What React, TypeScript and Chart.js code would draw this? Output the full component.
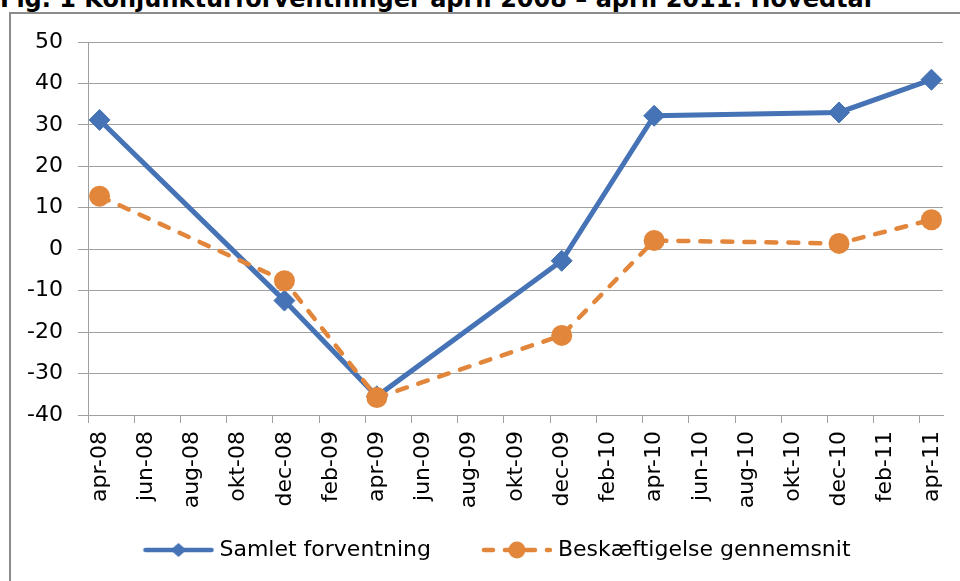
import React, { useEffect, useRef } from 'react';
import { Chart, registerables } from 'chart.js';

Chart.register(...registerables);

// ---- data ----
const monthNames = ['jan', 'feb', 'mar', 'apr', 'maj', 'jun', 'jul', 'aug', 'sep', 'okt', 'nov', 'dec'];
const tickLabels = [
  'apr-08', 'jun-08', 'aug-08', 'okt-08', 'dec-08', 'feb-09', 'apr-09', 'jun-09', 'aug-09', 'okt-09',
  'dec-09', 'feb-10', 'apr-10', 'jun-10', 'aug-10', 'okt-10', 'dec-10', 'feb-11', 'apr-11',
];
const categories = ['apr-08', 'dec-08', 'apr-09', 'dec-09', 'apr-10', 'dec-10', 'apr-11'];
const samletForventning = [31.2, -12.4, -35.5, -2.8, 32.2, 33.0, 40.9];
const beskaeftigelseGennemsnit = [12.8, -7.6, -35.8, -20.8, 2.1, 1.4, 7.1];
const seriesNames = ['Samlet forventning', 'Beskæftigelse gennemsnit'];
const yMin = -40;
const yMax = 50;
const yStep = 10;
const titleText = 'Fig. 1 Konjunkturforventninger april 2008 – april 2011: Hovedtal';

// ---- style ----
const BLUE = '#4573B5';
const ORANGE = '#E2863B';
const GRID = '#A0A0A0';
const FONT = "'DejaVu Sans', sans-serif";
const FONT_SIZE = 22;

function monthIndex(label: string): number {
  const [m, y] = label.split('-');
  return (2000 + Number(y)) * 12 + monthNames.indexOf(m);
}
const baseMonth = monthIndex(categories[0]);
const monthOffset = (label: string) => monthIndex(label) - baseMonth;
const lastMonth = monthOffset(tickLabels[tickLabels.length - 1]);

function makeSwatch(color: string, dashed: boolean, diamond: boolean): HTMLCanvasElement {
  const c = document.createElement('canvas');
  c.width = 72;
  c.height = 22;
  const g = c.getContext('2d')!;
  g.strokeStyle = color;
  g.fillStyle = color;
  g.lineWidth = 4.5;
  g.lineCap = 'round';
  if (dashed) g.setLineDash([9, 12]);
  g.beginPath();
  g.moveTo(3, 11);
  g.lineTo(69, 11);
  g.stroke();
  g.setLineDash([]);
  g.beginPath();
  if (diamond) {
    g.moveTo(36 - 8, 11);
    g.lineTo(36, 4);
    g.lineTo(36 + 8, 11);
    g.lineTo(36, 18);
    g.closePath();
  } else {
    g.arc(36, 11, 8.5, 0, Math.PI * 2);
  }
  g.fill();
  return c;
}

export default function App() {
  const ref = useRef<HTMLCanvasElement>(null);

  useEffect(() => {
    if (!ref.current) return;
    const swatches = [makeSwatch(BLUE, false, true), makeSwatch(ORANGE, true, false)];
    const plotLeft = 88;
    const plotRight = 943;
    const plotTop = 42;
    const plotBottom = 415;
    const canvasH = 581;
    const legendCenterX = 496.5;
    const legendY = 550;
    const swatchGap = 5;
    const itemGap = 50;

    const legendPlugin = {
      id: 'excelLegend',
      afterDraw(ch: any) {
        const ctx = ch.ctx as CanvasRenderingContext2D;
        ctx.save();
        ctx.font = `${FONT_SIZE}px ${FONT}`;
        const items = ch.data.datasets.map((ds: any, i: number) => ({
          text: ds.label as string,
          sw: swatches[i],
          tw: ctx.measureText(ds.label).width,
        }));
        const total =
          items.reduce((s: number, it: any) => s + it.sw.width + swatchGap + it.tw, 0) +
          itemGap * (items.length - 1);
        let x = legendCenterX - total / 2;
        ctx.textBaseline = 'middle';
        ctx.textAlign = 'left';
        ctx.fillStyle = '#000';
        items.forEach((it: any) => {
          ctx.drawImage(it.sw, x, legendY - it.sw.height / 2);
          x += it.sw.width + swatchGap;
          ctx.fillText(it.text, x, legendY);
          x += it.tw + itemGap;
        });
        ctx.restore();
      },
    };

    const chart = new Chart(ref.current, {
      type: 'line',
      data: {
        datasets: [
          {
            label: seriesNames[0],
            data: categories.map((c, i) => ({ x: monthOffset(c), y: samletForventning[i] })),
            borderColor: BLUE,
            backgroundColor: BLUE,
            borderWidth: 5,
            pointStyle: 'rectRot',
            pointRadius: 10.5,
            pointBorderWidth: 1,
            pointBackgroundColor: BLUE,
            pointBorderColor: BLUE,
            order: 1,
          },
          {
            label: seriesNames[1],
            data: categories.map((c, i) => ({ x: monthOffset(c), y: beskaeftigelseGennemsnit[i] })),
            borderColor: ORANGE,
            backgroundColor: ORANGE,
            borderWidth: 4.5,
            borderDash: [10, 12],
            borderCapStyle: 'round',
            pointStyle: 'circle',
            pointRadius: 10.5,
            pointBorderWidth: 0,
            pointBackgroundColor: ORANGE,
            pointBorderColor: ORANGE,
            order: 0,
          },
        ],
      },
      options: {
        animation: false,
        responsive: false,
        maintainAspectRatio: false,
        layout: { padding: { left: 0, right: 960 - plotRight, top: plotTop, bottom: 0 } },
        plugins: {
          title: { display: false },
          tooltip: { enabled: false },
          legend: { display: false },
        },
        scales: {
          x: {
            type: 'linear',
            min: -0.5,
            max: lastMonth + 0.5,
            afterBuildTicks: (scale: any) => {
              scale.ticks = tickLabels.map((l) => ({ value: monthOffset(l) - 0.5 }));
            },
            afterFit: (scale: any) => {
              scale.height = canvasH - plotBottom;
            },
            grid: {
              drawOnChartArea: false,
              drawTicks: true,
              tickLength: 8,
              tickColor: GRID,
              lineWidth: 1,
            },
            border: { display: true, color: GRID, width: 1 },
            ticks: {
              autoSkip: false,
              minRotation: 90,
              maxRotation: 90,
              padding: 8,
              labelOffset: 12,
              color: '#000',
              font: { family: FONT, size: FONT_SIZE },
              callback: (_v: any, i: number) => tickLabels[i],
            },
          },
          y: {
            type: 'linear',
            min: yMin,
            max: yMax,
            afterFit: (scale: any) => {
              scale.width = plotLeft;
            },
            grid: {
              color: GRID,
              lineWidth: 1,
              drawTicks: true,
              tickLength: 10,
              tickColor: GRID,
            },
            border: { display: true, color: GRID, width: 1 },
            ticks: {
              stepSize: yStep,
              padding: 15,
              color: '#000',
              font: { family: FONT, size: FONT_SIZE },
            },
          },
        },
      },
      plugins: [legendPlugin],
    });
    return () => chart.destroy();
  }, []);

  return (
    <div style={{ position: 'fixed', left: 0, top: 0, width: 960, height: 581, overflow: 'hidden', background: '#fff' }}>
      <div
        style={{
          position: 'absolute',
          left: 0,
          top: -13,
          whiteSpace: 'nowrap',
          fontFamily: FONT,
          fontWeight: 'bold',
          fontSize: 24,
          lineHeight: '24px',
          color: '#000',
        }}
      >
        {titleText}
      </div>
      <div
        style={{
          position: 'absolute',
          left: 9,
          top: 12,
          width: 1000,
          height: 700,
          border: '2px solid #8C8C8C',
        }}
      />
      <canvas ref={ref} width={960} height={581} style={{ position: 'absolute', left: 0, top: 0, width: 960, height: 581 }} />
    </div>
  );
}
